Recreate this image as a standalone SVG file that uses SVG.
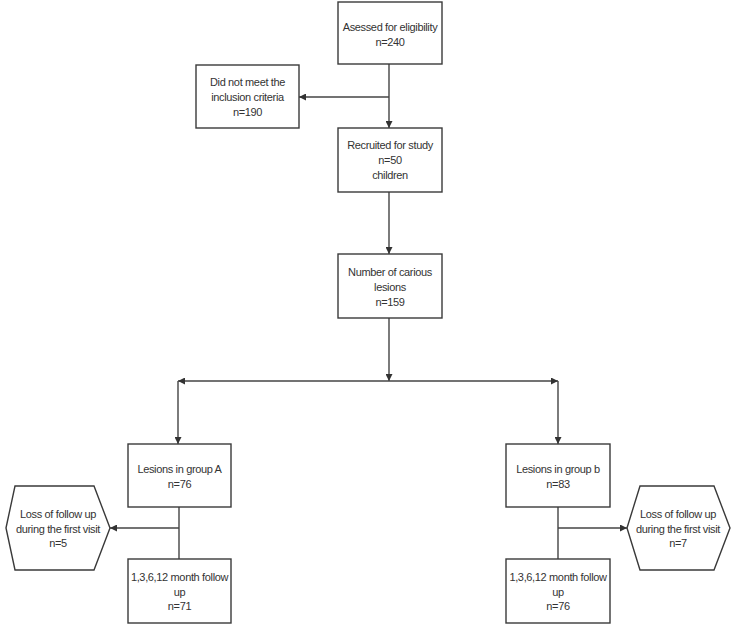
<svg xmlns="http://www.w3.org/2000/svg" width="735" height="625" viewBox="0 0 735 625">
<defs>
<style>
.box{fill:#fff;stroke:#3a3a3a;stroke-width:1.4}
.t{font-family:"Liberation Sans",Arial,sans-serif;font-size:11px;fill:#333;text-anchor:middle;letter-spacing:-0.35px}
.c{fill:none;stroke:#444;stroke-width:1.4}
</style>
<marker id="ah" viewBox="0 0 10 10" refX="10" refY="5" markerWidth="7" markerHeight="7" markerUnits="userSpaceOnUse" orient="auto">
<path d="M0,0 L10,5 L0,10 z" fill="#333"/>
</marker>
</defs>
<rect width="735" height="625" fill="#fff"/>
<g id="connectors">
<path class="c" d="M389,64 V128" marker-end="url(#ah)"/>
<path class="c" d="M389,97 H299" marker-end="url(#ah)"/>
<path class="c" d="M389,192 V254" marker-end="url(#ah)"/>
<path class="c" d="M389,318 V381" marker-end="url(#ah)"/>
<path class="c" d="M389,381 H178" marker-end="url(#ah)"/>
<path class="c" d="M389,381 H558" marker-end="url(#ah)"/>
<path class="c" d="M178,381 V444" marker-end="url(#ah)"/>
<path class="c" d="M558,381 V444" marker-end="url(#ah)"/>
<path class="c" d="M179,507 V559"/>
<path class="c" d="M179,528 H110" marker-end="url(#ah)"/>
<path class="c" d="M558,507 V559"/>
<path class="c" d="M558,528 H627" marker-end="url(#ah)"/>
</g>
<g id="assessed">
<rect class="box" x="338" y="2" width="104" height="62"/>
<text class="t" x="390" y="31">Asessed for eligibility</text>
<text class="t" x="390" y="46">n=240</text>
</g>
<g id="excluded">
<rect class="box" x="196" y="65" width="103" height="63"/>
<text class="t" x="247.5" y="86">Did not meet the</text>
<text class="t" x="247.5" y="101">inclusion criteria</text>
<text class="t" x="247.5" y="116">n=190</text>
</g>
<g id="recruited">
<rect class="box" x="338" y="128" width="104" height="64"/>
<text class="t" x="390" y="149">Recruited for study</text>
<text class="t" x="390" y="164">n=50</text>
<text class="t" x="390" y="179">children</text>
</g>
<g id="lesions">
<rect class="box" x="338" y="254" width="104" height="64"/>
<text class="t" x="390" y="276">Number of carious</text>
<text class="t" x="390" y="291">lesions</text>
<text class="t" x="390" y="306">n=159</text>
</g>
<g id="groupA">
<rect class="box" x="128" y="444" width="103" height="63"/>
<text class="t" x="179.5" y="473">Lesions in group A</text>
<text class="t" x="179.5" y="488">n=76</text>
</g>
<g id="lossA">
<polygon class="box" points="6,528 15,486 94,486 110,528 94,570 15,570"/>
<text class="t" x="58" y="518">Loss of follow up</text>
<text class="t" x="58" y="533">during the first visit</text>
<text class="t" x="58" y="547">n=5</text>
</g>
<g id="followA">
<rect class="box" x="128" y="559" width="103" height="64"/>
<text class="t" x="179.5" y="581">1,3,6,12 month follow</text>
<text class="t" x="179.5" y="596">up</text>
<text class="t" x="179.5" y="610">n=71</text>
</g>
<g id="groupB">
<rect class="box" x="506" y="444" width="104" height="63"/>
<text class="t" x="558" y="473">Lesions in group b</text>
<text class="t" x="558" y="488">n=83</text>
</g>
<g id="lossB">
<polygon class="box" points="627,528 640,486 714,486 730,528 714,570 640,570"/>
<text class="t" x="678" y="518">Loss of follow up</text>
<text class="t" x="678" y="533">during the first visit</text>
<text class="t" x="678" y="547">n=7</text>
</g>
<g id="followB">
<rect class="box" x="506" y="559" width="104" height="64"/>
<text class="t" x="558" y="581">1,3,6,12 month follow</text>
<text class="t" x="558" y="596">up</text>
<text class="t" x="558" y="610">n=76</text>
</g>
</svg>
